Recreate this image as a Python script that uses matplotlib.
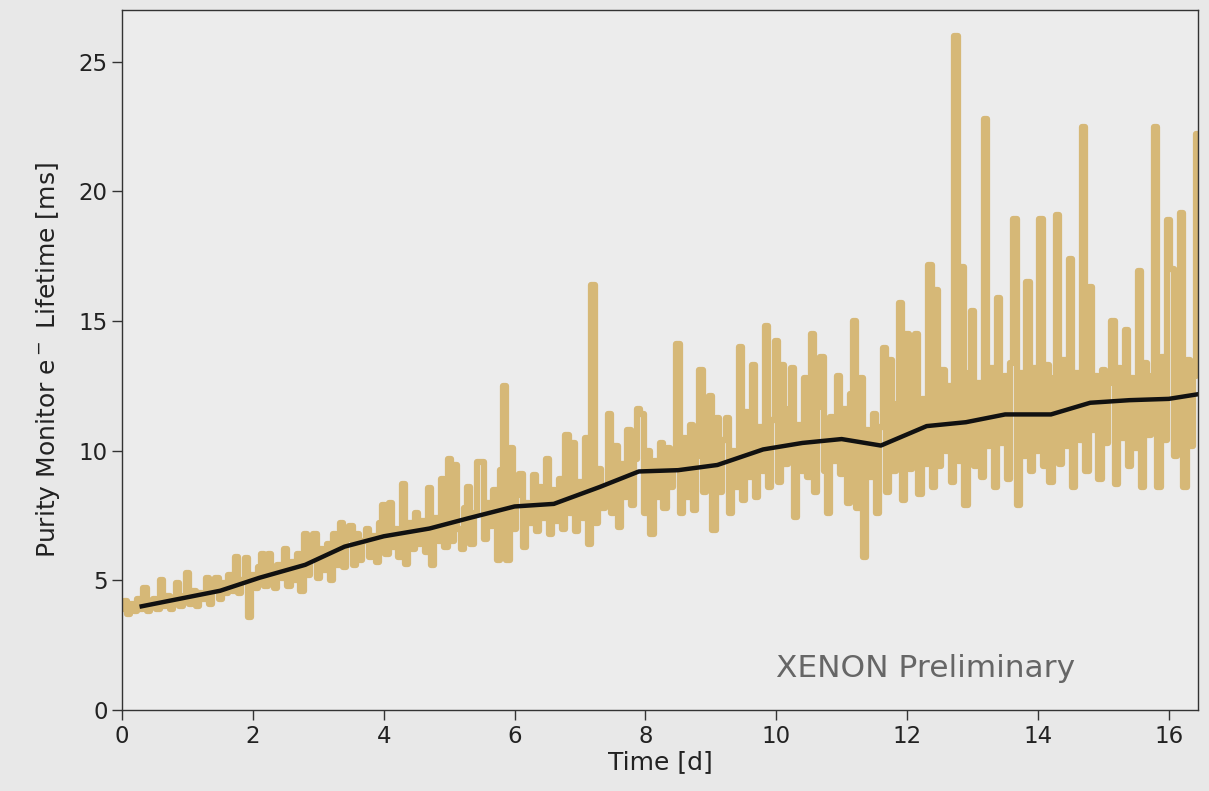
import numpy as np
import matplotlib
matplotlib.use('Agg')
import matplotlib.pyplot as plt

# electron lifetime from purity monitor, one value every 0.05 d
step = 0.05
lifetime = [
    3.9, 4.2, 3.7, 4.1, 3.8, 4.3, 3.9, 4.7, 3.8, 4.1,
    4.3, 3.9, 5.0, 4.0, 4.4, 3.9, 4.3, 4.9, 4.0, 4.4,
    5.3, 4.1, 4.6, 4.0, 4.5, 4.3, 5.1, 4.1, 4.6, 5.1,
    4.3, 4.9, 4.5, 5.2, 4.6, 5.9, 4.5, 5.0, 5.85, 3.6,
    5.2, 4.7, 5.5, 6.0, 4.8, 6.0, 5.3, 4.7, 5.6, 5.1,
    6.2, 4.8, 5.7, 5.0, 6.0, 4.6, 6.8, 5.2, 5.9, 6.8,
    5.1, 6.2, 5.4, 6.4, 5.0, 6.8, 5.6, 7.2, 5.5, 6.6,
    7.1, 5.6, 6.8, 5.8, 6.5, 7.0, 5.9, 6.7, 5.7, 7.2,
    7.9, 6.0, 8.0, 6.3, 7.0, 5.9, 8.7, 5.65, 7.2, 6.2,
    7.6, 6.4, 7.3, 6.1, 8.55, 5.6, 7.4, 6.5, 8.9, 6.3,
    9.7, 6.5, 9.45, 7.0, 6.2, 7.8, 8.6, 6.4, 7.6, 9.55,
    9.55, 6.6, 8.0, 7.1, 8.5, 5.8, 9.25, 12.5, 5.8, 10.1,
    7.0, 8.3, 9.1, 6.3, 8.0, 7.2, 9.05, 6.9, 8.6, 7.4,
    9.7, 6.8, 8.5, 7.3, 8.9, 7.0, 10.6, 7.6, 10.3, 6.9,
    8.8, 7.4, 10.5, 6.4, 16.4, 7.2, 9.3, 7.8, 8.6, 11.4,
    7.6, 10.2, 7.05, 9.5, 8.2, 10.8, 7.9, 9.7, 11.6, 11.4,
    7.6, 10.0, 6.8, 9.6, 8.2, 10.3, 7.8, 10.1, 8.6, 9.4,
    14.1, 7.6, 10.5, 8.2, 11.0, 7.7, 9.8, 13.1, 8.4, 10.2,
    12.1, 6.95, 11.25, 8.4, 10.4, 11.25, 7.6, 10.0, 8.6, 14.0,
    8.1, 11.5, 9.0, 13.3, 8.2, 10.9, 9.2, 14.8, 8.6, 11.2,
    14.25, 8.8, 13.3, 9.5, 11.6, 13.2, 7.45, 11.0, 9.2, 12.8,
    9.0, 14.5, 8.4, 11.7, 13.6, 9.2, 7.6, 11.3, 9.6, 12.9,
    9.1, 11.6, 8.0, 12.2, 15.0, 7.8, 12.8, 5.9, 10.8, 9.0,
    11.4, 7.6, 10.9, 13.95, 8.4, 13.5, 9.2, 11.8, 15.7, 8.1,
    14.5, 9.3, 12.2, 14.5, 8.35, 12.0, 9.5, 17.15, 8.6, 16.2,
    9.4, 13.1, 10.0, 12.5, 8.8, 26.0, 9.6, 17.1, 7.9, 13.0,
    15.4, 9.4, 12.6, 9.0, 22.8, 10.2, 13.2, 8.6, 15.9, 10.3,
    12.9, 8.9, 13.4, 18.95, 7.9, 13.0, 9.8, 16.5, 9.2, 13.2,
    10.0, 18.95, 9.4, 13.3, 8.8, 12.8, 19.1, 9.5, 13.5, 10.2,
    17.4, 8.6, 13.0, 10.4, 22.5, 9.2, 16.3, 10.8, 12.9, 8.9,
    13.1, 10.3, 12.6, 15.0, 8.7, 13.2, 10.5, 14.65, 9.4, 12.8,
    10.1, 16.95, 8.6, 13.4, 10.6, 12.9, 22.5, 8.6, 13.6, 10.4,
    18.9, 17.0, 9.8, 13.3, 19.15, 8.6, 13.5, 10.2, 12.9, 22.2,
]
t = np.arange(len(lifetime)) * step

# smoothed trend (black line)
trend_t = [0.3, 1.5, 2.1, 2.8, 3.4, 4.0, 4.7, 5.3, 6.0, 6.6, 7.3, 7.9, 8.5,
           9.1, 9.8, 10.4, 11.0, 11.6, 12.3, 12.9, 13.5, 14.2, 14.8, 15.4,
           16.0, 16.5]
trend_v = [4.0, 4.6, 5.1, 5.6, 6.3, 6.7, 7.0, 7.4, 7.85, 7.95, 8.6, 9.2, 9.25,
           9.45, 10.05, 10.3, 10.45, 10.2, 10.95, 11.1, 11.4, 11.4, 11.85, 11.95,
           12.0, 12.2]

fig = plt.figure(figsize=(12.09, 7.91), dpi=100, facecolor='#e8e8e8')
ax = fig.add_axes([0.101, 0.1024, 0.890, 0.885])
ax.set_facecolor('#ececec')

ax.plot(t, lifetime, color='#d6b877', lw=4.5, drawstyle='steps-mid',
        solid_joinstyle='round', solid_capstyle='round')
ax.plot(trend_t, trend_v, color='#111111', lw=3.2)

ax.set_xlim(0, 16.45)
ax.set_ylim(0, 27)
ax.set_xticks(range(0, 17, 2))
ax.set_yticks(range(0, 26, 5))
ax.tick_params(labelsize=16.5, length=7, width=1, colors='#333333', labelcolor='#222222')
for s in ax.spines.values():
    s.set_color('#333333')
    s.set_linewidth(1)

ax.set_xlabel('Time [d]', fontsize=18, color='#222222', labelpad=2)
ax.set_ylabel('Purity Monitor e$^-$ Lifetime [ms]', fontsize=18, color='#222222', labelpad=12)

ax.text(10.0, 1.6, 'XENON Preliminary', fontsize=22.5, color='#666666', va='center', ha='left')

fig.savefig('out.png', dpi=100, facecolor=fig.get_facecolor())
